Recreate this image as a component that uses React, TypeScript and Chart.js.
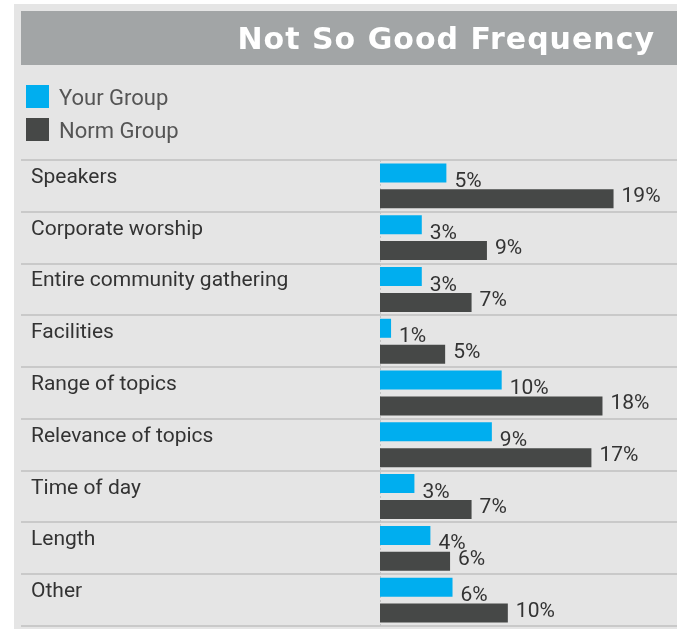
import React, { useEffect, useRef } from 'react';
import { Chart, registerables } from 'chart.js';

Chart.register(...registerables);

const chartTitle = 'Not So Good Frequency';
const categories = [
  'Speakers',
  'Corporate worship',
  'Entire community gathering',
  'Facilities',
  'Range of topics',
  'Relevance of topics',
  'Time of day',
  'Length',
  'Other',
];
const seriesNames = ['Your Group', 'Norm Group'];
const yourGroup = [5.4, 3.4, 3.4, 0.9, 9.9, 9.1, 2.8, 4.1, 5.9];
const normGroup = [19.0, 8.7, 7.45, 5.3, 18.1, 17.2, 7.45, 5.7, 10.4];
const seriesColors = ['#00aeef', '#464847'];
const axisMax = 24;

const FONT = 'Roboto, "Noto Sans", sans-serif';

const decorPlugin = {
  id: 'decor',
  beforeDraw(chart: any) {
    const { ctx, chartArea, scales } = chart;
    const W = chart.width;
    const H = chart.height;
    ctx.save();
    ctx.fillStyle = '#ffffff';
    ctx.fillRect(0, 0, W, H);
    ctx.fillStyle = '#e5e5e5';
    ctx.fillRect(14, 4, W - 14, H - 4);
    // title bar
    ctx.fillStyle = '#a2a5a6';
    ctx.fillRect(21, 11, W - 21, 54);
    ctx.fillStyle = '#ffffff';
    ctx.font = 'bold 30px "DejaVu Sans"';
    try { (ctx as any).letterSpacing = '1px'; } catch (e) {}
    ctx.textAlign = 'right';
    ctx.textBaseline = 'alphabetic';
    ctx.fillText(chartTitle, 655, 49);
    try { (ctx as any).letterSpacing = '0px'; } catch (e) {}
    // legend
    chart.data.datasets.forEach((ds: any, i: number) => {
      const cy = 97 + i * 33;
      ctx.fillStyle = ds.backgroundColor;
      ctx.fillRect(26, cy - 12, 23, 23);
      ctx.fillStyle = '#555555';
      ctx.font = `22px ${FONT}`;
      ctx.textAlign = 'left';
      ctx.fillText(ds.label, 59, cy + 8);
    });
    // rows
    const y = scales.y;
    const n = chart.data.labels.length;
    const step = n > 1 ? y.getPixelForValue(1) - y.getPixelForValue(0) : chartArea.bottom - chartArea.top;
    ctx.strokeStyle = '#c9c9c9';
    ctx.lineWidth = 2;
    for (let i = 0; i <= n; i++) {
      const yy = Math.round(y.getPixelForValue(0) - step / 2 + i * step);
      ctx.beginPath();
      ctx.moveTo(21, yy);
      ctx.lineTo(W, yy);
      ctx.stroke();
    }
    ctx.fillStyle = '#333333';
    ctx.font = `21px ${FONT}`;
    ctx.textAlign = 'left';
    chart.data.labels.forEach((lab: string, i: number) => {
      const cy = y.getPixelForValue(i);
      ctx.fillText(lab, 31, cy - 3);
    });
    // zero line
    const x0 = Math.round(scales.x.getPixelForValue(0)) + 0.5;
    ctx.strokeStyle = '#c4c4c4';
    ctx.lineWidth = 1;
    ctx.setLineDash([2, 2]);
    ctx.beginPath();
    ctx.moveTo(x0, chartArea.top);
    ctx.lineTo(x0, chartArea.bottom);
    ctx.stroke();
    ctx.restore();
  },
  afterDatasetsDraw(chart: any) {
    const { ctx } = chart;
    ctx.save();
    ctx.fillStyle = '#333333';
    ctx.font = `21px ${FONT}`;
    ctx.textAlign = 'left';
    ctx.textBaseline = 'alphabetic';
    chart.data.datasets.forEach((ds: any, di: number) => {
      const meta = chart.getDatasetMeta(di);
      meta.data.forEach((el: any, i: number) => {
        const v = ds.data[i];
        ctx.fillText(`${Math.round(v)}%`, el.x + 8, el.y + (di === 0 ? 14 : 3.5));
      });
    });
    ctx.restore();
  },
};

export default function App() {
  const ref = useRef<HTMLCanvasElement | null>(null);
  useEffect(() => {
    if (!ref.current) return;
    const chart = new Chart(ref.current, {
      type: 'bar',
      data: {
        labels: categories,
        datasets: [
          {
            label: seriesNames[0],
            data: yourGroup,
            backgroundColor: seriesColors[0],
            categoryPercentage: 1,
            barPercentage: 0.734,
          },
          {
            label: seriesNames[1],
            data: normGroup,
            backgroundColor: seriesColors[1],
            categoryPercentage: 1,
            barPercentage: 0.734,
          },
        ],
      },
      plugins: [decorPlugin],
      options: {
        indexAxis: 'y',
        responsive: false,
        maintainAspectRatio: false,
        animation: false,
        layout: { padding: { left: 380, right: 2, top: 160, bottom: 3 } },
        scales: {
          x: { display: false, min: 0, max: axisMax },
          y: { display: false, offset: true },
        },
        plugins: {
          legend: { display: false },
          title: { display: false },
          tooltip: { enabled: false },
        },
      },
    } as any);
    return () => chart.destroy();
  }, []);
  return (
    <div style={{ position: 'absolute', left: 0, top: 0, width: 677, height: 629, background: '#fff' }}>
      <canvas ref={ref} width={677} height={629} style={{ display: 'block', width: 677, height: 629 }} />
    </div>
  );
}
